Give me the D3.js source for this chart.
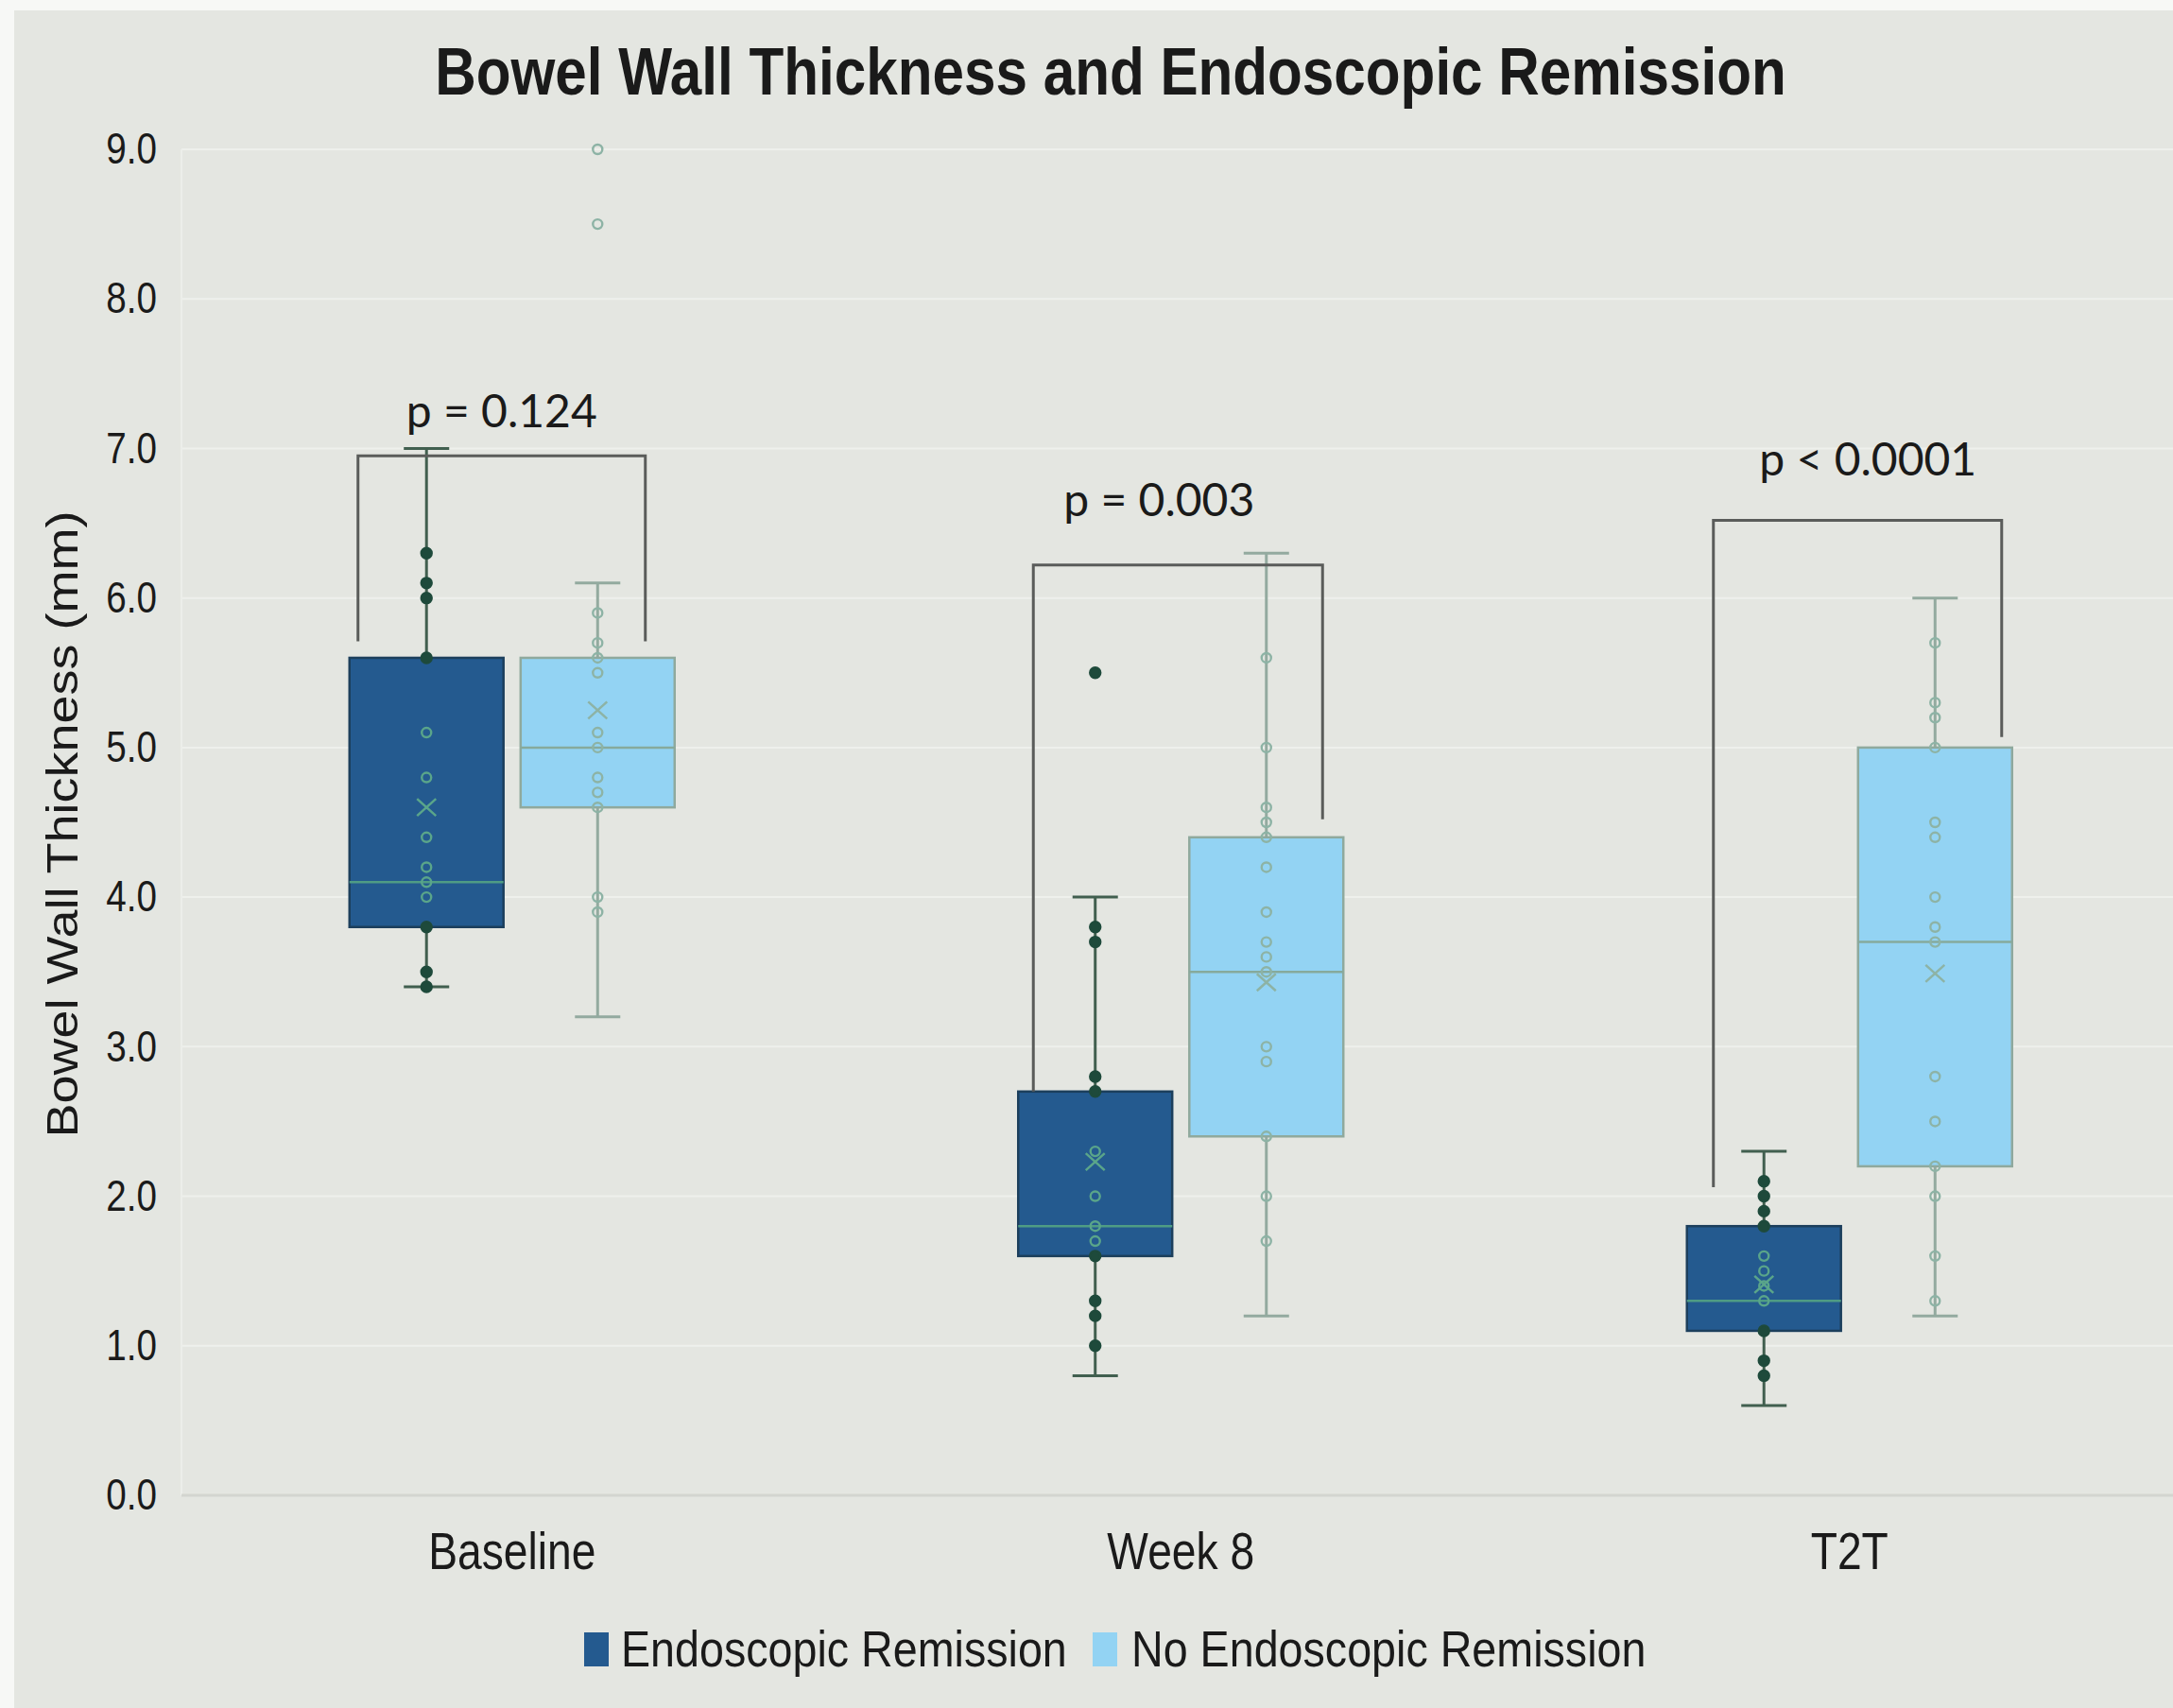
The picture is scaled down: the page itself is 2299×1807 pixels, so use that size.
<!DOCTYPE html>
<html>
<head>
<meta charset="utf-8">
<script src="https://cdn.jsdelivr.net/npm/d3@7"></script>
<style>
  body { margin: 0; background: #f7f8f6; }
  svg text { font-family: "Liberation Sans", Arial, sans-serif; fill: #1a1a1a; }
</style>
</head>
<body>
<svg id="chart" width="2299" height="1807"></svg>
<script>
// ---- data ----
const categories = ["Baseline", "Week 8", "T2T"];
const seriesNames = ["Endoscopic Remission", "No Endoscopic Remission"];
const yTicks = [0, 1, 2, 3, 4, 5, 6, 7, 8, 9];

// Endoscopic Remission (dark boxes)
const remMin = [3.4, 0.8, 0.6];
const remQ1 = [3.8, 1.6, 1.1];
const remMedian = [4.1, 1.8, 1.3];
const remQ3 = [5.6, 2.7, 1.8];
const remMax = [7.0, 4.0, 2.3];
const remMean = [4.6, 2.23, 1.41];
const remPoints = [
  [6.3, 6.1, 6.0, 5.6, 5.1, 4.8, 4.4, 4.2, 4.1, 4.0, 3.8, 3.5, 3.4],
  [5.5, 3.8, 3.7, 2.8, 2.7, 2.3, 2.0, 1.8, 1.7, 1.6, 1.3, 1.2, 1.0],
  [2.1, 2.0, 1.9, 1.8, 1.6, 1.5, 1.4, 1.3, 1.1, 0.9, 0.8]
];

// No Endoscopic Remission (light boxes)
const noRemMin = [3.2, 1.2, 1.2];
const noRemQ1 = [4.6, 2.4, 2.2];
const noRemMedian = [5.0, 3.5, 3.7];
const noRemQ3 = [5.6, 4.4, 5.0];
const noRemMax = [6.1, 6.3, 6.0];
const noRemMean = [5.25, 3.43, 3.49];
const noRemPoints = [
  [9.0, 8.5, 5.9, 5.7, 5.6, 5.5, 5.1, 5.0, 4.8, 4.7, 4.6, 4.0, 3.9],
  [5.6, 5.0, 4.6, 4.5, 4.4, 4.2, 3.9, 3.7, 3.6, 3.5, 3.0, 2.9, 2.4, 2.0, 1.7],
  [5.7, 5.3, 5.2, 5.0, 4.5, 4.4, 4.0, 3.8, 3.7, 2.8, 2.5, 2.2, 2.0, 1.6, 1.3]
];

// p-value brackets (values in mm)
const pLabels = ["p = 0.124", "p = 0.003", "p < 0.0001"];
const pLabelAt = [7.14, 6.55, 6.82];
const bracketTop = [6.95, 6.22, 6.52];
const bracketLeftEnd = [5.71, 2.70, 2.06];
const bracketRightEnd = [5.71, 4.52, 5.07];

// ---- styles / layout ----
const fills = ["#245a8f", "#93d3f3"];
const boxStroke = ["#1c3f5c", "#8fa99d"];
const whiskerColor = ["#415f4f", "#93aa9f"];
const medianColor = ["#4f9c84", "#86aa9c"];
const markColor = ["#5aa58a", "#8db3a5"];
const insetL = [9, 16, 28];    // bracket legs, px in from the boxes
const insetR = [31, 22, 11];
const labelShift = [0, -20, 11];

// the source image is squeezed sideways, so the text is too
function squeeze(sel, k) {
  sel.each(function () {
    let w = this.getComputedTextLength();
    d3.select(this).attr("textLength", w * k).attr("lengthAdjust", "spacingAndGlyphs");
  });
}

const svg = d3.select("#chart");

// background panel
svg.append("rect").attr("x", 15).attr("y", 11).attr("width", 2299 - 15).attr("height", 1807 - 11)
  .attr("fill", "#e4e6e1");

// scales
let x = d3.scaleBand().domain(categories).range([188, 2310.5]);
let xInner = d3.scaleBand().domain([0, 1])
  .range([x.bandwidth() / 2 - 172, x.bandwidth() / 2 + 172])
  .paddingInner(0.1);
let y = d3.scaleLinear().domain([0, 9]).range([1582, 158]);

// grid
svg.append("g").selectAll("line").data(yTicks.filter(d => d > 0)).join("line")
  .attr("x1", 192).attr("x2", 2299)
  .attr("y1", d => y(d)).attr("y2", d => y(d))
  .attr("stroke", "#eef0ec").attr("stroke-width", 2);
svg.append("line").attr("x1", 192).attr("x2", 192).attr("y1", y(9)).attr("y2", y(0))
  .attr("stroke", "#eceeea").attr("stroke-width", 2);
svg.append("line").attr("x1", 192).attr("x2", 2299).attr("y1", y(0)).attr("y2", y(0))
  .attr("stroke", "#d3d5d0").attr("stroke-width", 3);

// axes
let yAxis = d3.axisLeft(y).tickValues(yTicks).tickFormat(d3.format(".1f")).tickSize(0).tickPadding(22);
let yg = svg.append("g").attr("transform", "translate(188,0)").call(yAxis);
yg.select(".domain").remove();
yg.selectAll("text").style("font-size", "46px").style("font-family", null).call(squeeze, 0.84);

let xAxis = d3.axisBottom(x).tickSize(0).tickPadding(39);
let xg = svg.append("g").attr("transform", "translate(0," + y(0) + ")").call(xAxis);
xg.select(".domain").remove();
xg.selectAll("text").style("font-size", "55px").style("font-family", null).call(squeeze, 0.84);

// titles
svg.append("text").attr("x", 1175).attr("y", 100).attr("text-anchor", "middle")
  .style("font-size", "70px").style("font-weight", "bold")
  .text("Bowel Wall Thickness and Endoscopic Remission")
  .call(squeeze, 0.86);
svg.append("text").attr("transform", "translate(82,872) scale(0.84,1) rotate(-90)").attr("text-anchor", "middle")
  .style("font-size", "54px")
  .text("Bowel Wall Thickness (mm)");

// table of boxes
let boxes = [];
categories.forEach((c, i) => {
  boxes.push({cat: c, s: 0, min: remMin[i], q1: remQ1[i], med: remMedian[i], q3: remQ3[i], max: remMax[i], mean: remMean[i], pts: remPoints[i]});
  boxes.push({cat: c, s: 1, min: noRemMin[i], q1: noRemQ1[i], med: noRemMedian[i], q3: noRemQ3[i], max: noRemMax[i], mean: noRemMean[i], pts: noRemPoints[i]});
});
const cx = d => x(d.cat) + xInner(d.s) + xInner.bandwidth() / 2;
const capW = 24;

let g = svg.append("g").selectAll("g").data(boxes).join("g");

// whiskers
g.append("line").attr("x1", cx).attr("x2", cx)
  .attr("y1", d => y(d.max)).attr("y2", d => y(d.min))
  .attr("stroke", d => whiskerColor[d.s]).attr("stroke-width", 3);
g.append("line").attr("x1", d => cx(d) - capW).attr("x2", d => cx(d) + capW)
  .attr("y1", d => y(d.max)).attr("y2", d => y(d.max))
  .attr("stroke", d => whiskerColor[d.s]).attr("stroke-width", 3);
g.append("line").attr("x1", d => cx(d) - capW).attr("x2", d => cx(d) + capW)
  .attr("y1", d => y(d.min)).attr("y2", d => y(d.min))
  .attr("stroke", d => whiskerColor[d.s]).attr("stroke-width", 3);

// box + median
g.append("rect").attr("x", d => x(d.cat) + xInner(d.s)).attr("width", xInner.bandwidth())
  .attr("y", d => y(d.q3)).attr("height", d => y(d.q1) - y(d.q3))
  .attr("fill", d => fills[d.s]).attr("stroke", d => boxStroke[d.s]).attr("stroke-width", 2.5);
g.append("line").attr("x1", d => x(d.cat) + xInner(d.s)).attr("x2", d => x(d.cat) + xInner(d.s) + xInner.bandwidth())
  .attr("y1", d => y(d.med)).attr("y2", d => y(d.med))
  .attr("stroke", d => medianColor[d.s]).attr("stroke-width", 2.5);

// inner points
const outside = d => d.s === 0 && (d.v >= d.q3 || d.v <= d.q1);
g.selectAll("circle").data(d => d.pts.map(v => ({v: v, s: d.s, cat: d.cat, q1: d.q1, q3: d.q3}))).join("circle")
  .attr("cx", cx).attr("cy", d => y(d.v)).attr("r", d => outside(d) ? 5.5 : 5)
  .attr("fill", d => outside(d) ? "#1e4a3b" : "none")
  .attr("stroke", d => outside(d) ? "#1e4a3b" : markColor[d.s])
  .attr("stroke-width", 2.4);

// mean marker
g.append("path")
  .attr("d", d => {
    let px = cx(d), py = y(d.mean);
    return "M" + (px - 10) + "," + (py - 9) + "L" + (px + 10) + "," + (py + 9) +
      "M" + (px - 10) + "," + (py + 9) + "L" + (px + 10) + "," + (py - 9);
  })
  .attr("stroke", d => markColor[d.s]).attr("stroke-width", 2.5).attr("fill", "none");

// p-value brackets
let br = svg.append("g").selectAll("g").data(categories).join("g");
const legL = (c, i) => x(c) + xInner(0) + insetL[i];
const legR = (c, i) => x(c) + xInner(1) + xInner.bandwidth() - insetR[i];
br.append("path")
  .attr("d", (c, i) => "M" + legL(c, i) + "," + y(bracketLeftEnd[i]) + "V" + y(bracketTop[i]) +
    "H" + legR(c, i) + "V" + y(bracketRightEnd[i]))
  .attr("fill", "none").attr("stroke", "#5a5c5a").attr("stroke-width", 3);
br.append("text")
  .attr("x", (c, i) => (legL(c, i) + legR(c, i)) / 2 + labelShift[i]).attr("y", (c, i) => y(pLabelAt[i]))
  .attr("text-anchor", "middle")
  .style("font-family", "Lato, 'Open Sans', sans-serif").style("font-size", "48px")
  .text((c, i) => pLabels[i]);

// legend
let leg = svg.append("g");
leg.append("rect").attr("x", 618).attr("y", 1727).attr("width", 26).attr("height", 36).attr("fill", fills[0]);
leg.append("text").attr("x", 657).attr("y", 1763).style("font-size", "53px").text(seriesNames[0]).call(squeeze, 0.88);
leg.append("rect").attr("x", 1156).attr("y", 1727).attr("width", 26).attr("height", 36).attr("fill", fills[1]);
leg.append("text").attr("x", 1197).attr("y", 1763).style("font-size", "53px").text(seriesNames[1]).call(squeeze, 0.88);
</script>
</body>
</html>
